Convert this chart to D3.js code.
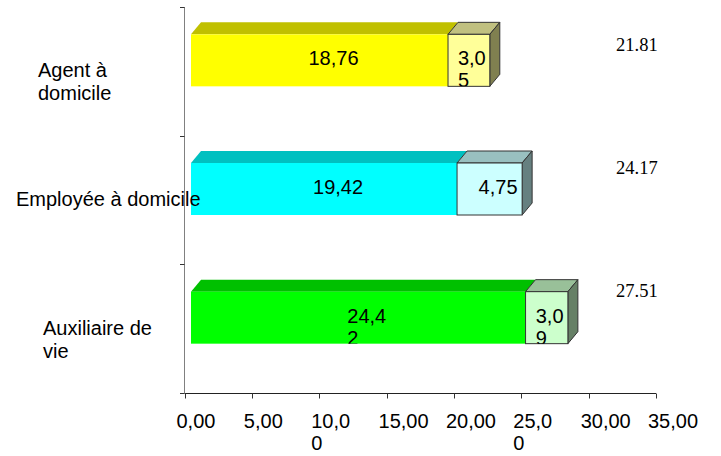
<!DOCTYPE html>
<html><head><meta charset="utf-8">
<script src="https://cdn.jsdelivr.net/npm/d3@7"></script>
<style>
html,body{margin:0;padding:0;background:#fff;}
svg{display:block;}
</style>
</head><body>
<svg id="chart" width="721" height="456"></svg>
<script>
// ---- data ----
const categories = ["Agent à domicile", "Employée à domicile", "Auxiliaire de vie"];
const categoryLines = [["Agent à", "domicile"], ["Employée à domicile"], ["Auxiliaire de", "vie"]];
const baseValues = [18.76, 19.42, 24.42];
const extraValues = [3.05, 4.75, 3.09];
const xTickValues = [0, 5, 10, 15, 20, 25, 30, 35];
const xTickLabels = [["0,00"], ["5,00"], ["10,0", "0"], ["15,00"], ["20,00"], ["25,0", "0"], ["30,00"], ["35,00"]];
const baseLabelLines = [["18,76"], ["19,42"], ["24,4", "2"]];
const extraLabelLines = [["3,0", "5"], ["4,75"], ["3,0", "9"]];

// ---- layout / style ----
const catLabelX = [38, 16, 43];
const baseColors = [
  {front: "#FFFF00", top: "#C0C000"},
  {front: "#00FFFF", top: "#00C0C0"},
  {front: "#00FF00", top: "#00C000"}
];
const extraColors = [
  {front: "#FFFF99", top: "#C0C080", side: "#808050"},
  {front: "#CCFFFF", top: "#99C0C0", side: "#668080"},
  {front: "#CCFFCC", top: "#99C099", side: "#668066"}
];
const font = "'Liberation Sans', Arial, sans-serif";
const serif = "'Liberation Serif', 'Times New Roman', serif";
const FS = 20;
const DX = 10, DY = 12, BAR_H = 52;

const svg = d3.select("#chart");

const x = d3.scaleLinear().domain([0, 35]).range([184.5, 656]);
const xBar = d3.scaleLinear().domain([0, 35]).range([191, 191 + 35 * 13.7]);
const y = d3.scaleBand().domain(categories).range([7, 393]).padding(0);
const yTotal = d3.scalePoint().domain(categories).range([51, 297]);

// axes
const yAxis = svg.append("g");
yAxis.append("line").attr("x1", 184.5).attr("x2", 184.5).attr("y1", 7).attr("y2", 393)
  .attr("stroke", "#808080").attr("stroke-width", 1);
const bounds = categories.map(c => y(c)).concat([y.range()[1]]);
yAxis.selectAll("line.t").data(bounds).enter().append("line")
  .attr("x1", 180).attr("x2", 184.5).attr("y1", d => Math.round(d) + 0.5).attr("y2", d => Math.round(d) + 0.5)
  .attr("stroke", "#333").attr("stroke-width", 1);

const xAxisG = svg.append("g").attr("transform", "translate(0,393.5)");
xAxisG.append("line").attr("x1", x(0)).attr("x2", x(35)).attr("y1", 0).attr("y2", 0)
  .attr("stroke", "#222").attr("stroke-width", 1);
xAxisG.selectAll("line.t").data(xTickValues).enter().append("line")
  .attr("x1", d => Math.round(x(d)) + 0.5).attr("x2", d => Math.round(x(d)) + 0.5)
  .attr("y1", 0).attr("y2", 5).attr("stroke", "#333");
xTickValues.forEach((v, i) => {
  const t = svg.append("text").attr("font-family", font).attr("font-size", FS).attr("fill", "#000");
  xTickLabels[i].forEach((ln, j) => {
    t.append("tspan").attr("x", x(v) - 8).attr("y", 428 + j * 22).text(ln);
  });
});

const defs = svg.append("defs");

function drawSegment(g, x0, x1, yTop, col, outline, withSide) {
  const stroke = outline ? "#333" : "none";
  g.append("path")
    .attr("d", `M${x0},${yTop} L${x0 + DX},${yTop - DY} L${x1 + DX},${yTop - DY} L${x1},${yTop} Z`)
    .attr("fill", col.top).attr("stroke", stroke).attr("stroke-width", 1).attr("stroke-linejoin", "round");
  if (withSide) {
    g.append("path")
      .attr("d", `M${x1},${yTop} L${x1 + DX},${yTop - DY} L${x1 + DX},${yTop - DY + BAR_H} L${x1},${yTop + BAR_H} Z`)
      .attr("fill", col.side).attr("stroke", stroke).attr("stroke-width", 1).attr("stroke-linejoin", "round");
  }
  g.append("rect").attr("x", x0).attr("y", yTop).attr("width", x1 - x0).attr("height", BAR_H)
    .attr("fill", col.front).attr("stroke", stroke).attr("stroke-width", 1);
}

function drawLabel(g, id, x0, x1, yTop, lines) {
  defs.append("clipPath").attr("id", id).append("rect")
    .attr("x", x0).attr("y", yTop).attr("width", x1 - x0 + DX).attr("height", BAR_H);
  const mid = (x0 + x1) / 2;
  const t = g.append("text").attr("clip-path", `url(#${id})`)
    .attr("font-family", font).attr("font-size", FS).attr("fill", "#000");
  lines.forEach((ln, j) => {
    t.append("tspan").attr("x", mid - 11).attr("y", yTop + BAR_H / 2 + 5 + j * 22).text(ln);
  });
}

categories.forEach((c, i) => {
  const g = svg.append("g");
  const yTop = y(c) + y.bandwidth() / 2 - 11 - BAR_H / 2;
  const b0 = xBar(0), b1 = xBar(baseValues[i]), e1 = xBar(baseValues[i] + extraValues[i]);
  drawSegment(g, b0, b1, yTop, baseColors[i], false, false);
  drawSegment(g, b1, e1, yTop, extraColors[i], true, true);
  drawLabel(g, "cb" + i, b0, b1, yTop, baseLabelLines[i]);
  drawLabel(g, "ce" + i, b1, e1, yTop, extraLabelLines[i]);
  svg.append("text").attr("x", 616).attr("y", yTotal(c))
    .attr("font-family", serif).attr("font-size", 18.5).attr("fill", "#000")
    .text(d3.format(".2f")(baseValues[i] + extraValues[i]));
});

// category labels (drawn on top of bars)
categories.forEach((c, i) => {
  const t = svg.append("text").attr("font-family", font).attr("font-size", FS).attr("fill", "#000");
  const cy = y(c) + y.bandwidth() / 2;
  categoryLines[i].forEach((ln, j) => {
    t.append("tspan").attr("x", catLabelX[i]).attr("y", cy + 6 + j * 23).text(ln);
  });
});
</script>
</body></html>
